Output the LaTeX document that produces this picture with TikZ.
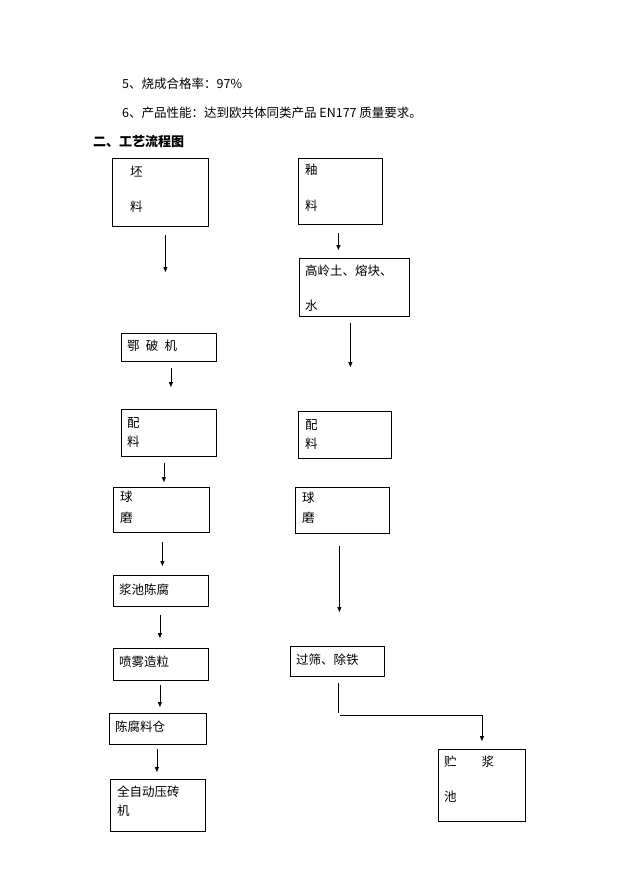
\documentclass[tikz,border=0pt]{standalone}
\usepackage{fontspec}
\setmainfont{Noto Sans CJK SC}
\usetikzlibrary{arrows.meta}
\tikzset{
  box/.style={draw, thick, inner sep=0pt, anchor=north west},
  lbl/.style={anchor=west, inner sep=0pt, font=\fontsize{12.5pt}{14pt}\selectfont},
  arr/.style={-{Triangle[length=5pt,width=4pt]}, thin}
}
\begin{document}
\begin{tikzpicture}[x=1pt,y=-1pt]
\useasboundingbox[fill=white] (0,0) rectangle (621,877);

\node[lbl] (t5) at (122,84) {5、烧成合格率：97\%};
\node[lbl] (t6) at (122,113) {6、产品性能：达到欧共体同类产品 EN177 质量要求。};
\node[lbl,font=\fontsize{13pt}{14pt}\selectfont\bfseries] (t2) at (93,142) {二、工艺流程图};

% left column
\node[box,minimum width=96,minimum height=68] (pl) at (112,158) {};
\node[lbl] at (130,172) {坯};
\node[lbl] at (130,207) {料};
\node[box,minimum width=95,minimum height=28] (ep) at (121,333) {};
\node[lbl] at (127,346) {鄂\enspace 破\enspace 机};
\node[box,minimum width=95,minimum height=47] (pa) at (121,409) {};
\node[lbl] at (127,423) {配};
\node[lbl] at (127,442) {料};
\node[box,minimum width=96,minimum height=45] (qa) at (113,487) {};
\node[lbl] at (120,497) {球};
\node[lbl] at (120,518) {磨};
\node[box,minimum width=95,minimum height=31] (jc) at (113,575) {};
\node[lbl] at (119,590) {浆池陈腐};
\node[box,minimum width=95,minimum height=32] (pw) at (113,648) {};
\node[lbl] at (119,662) {喷雾造粒};
\node[box,minimum width=97,minimum height=31] (cf) at (109,713) {};
\node[lbl] at (115,727) {陈腐料仓};
\node[box,minimum width=95,minimum height=52] (yz) at (110,779) {};
\node[lbl] at (117,792) {全自动压砖};
\node[lbl] at (117,811) {机};

% right column
\node[box,minimum width=84,minimum height=66] (yl) at (298,158) {};
\node[lbl] at (305,170) {釉};
\node[lbl] at (305,206) {料};
\node[box,minimum width=110,minimum height=58] (gl) at (299,258) {};
\node[lbl] at (305,271) {高岭土、熔块、};
\node[lbl] at (305,306) {水};
\node[box,minimum width=93,minimum height=47] (pb) at (298,411) {};
\node[lbl] at (305,425) {配};
\node[lbl] at (305,444) {料};
\node[box,minimum width=94,minimum height=46] (qb) at (295,487) {};
\node[lbl] at (302,498) {球};
\node[lbl] at (302,518) {磨};
\node[box,minimum width=94,minimum height=30] (gs) at (290,646) {};
\node[lbl] at (296,660) {过筛、除铁};
\node[box,minimum width=87,minimum height=72] (zc) at (438,749) {};
\node[lbl] at (444,762) {贮\qquad 浆};
\node[lbl] at (444,797) {池};

% connectors
\draw[arr] ([xshift=5,yshift=-8]pl.south) -- ([xshift=5,yshift=61]pl.south |- ep.north);
\draw[arr] ([xshift=-2,yshift=-8]yl.south) -- ([xshift=-2,yshift=8]yl.south |- gl.north);
\draw[arr] ([xshift=-4,yshift=-6]gl.south) -- ([xshift=-4,yshift=44]gl.south |- pb.north);
\draw[arr] ([xshift=2,yshift=-6]ep.south) -- ([xshift=2,yshift=22]ep.south |- pa.north);
\draw[arr] ([xshift=-5,yshift=-6]pa.south) -- ([xshift=-5,yshift=5]pa.south |- qa.north);
\draw[arr] ([xshift=1,yshift=-9]qa.south) -- ([xshift=1,yshift=9]qa.south |- jc.north);
\draw[arr] ([xshift=-3,yshift=-12]qb.south) -- ([xshift=-3,yshift=34]qb.south |- gs.north);
\draw[arr] ([xshift=-1,yshift=-8]jc.south) -- ([xshift=-1,yshift=10]jc.south |- pw.north);
\draw[arr] ([xshift=-1,yshift=-4]pw.south) -- ([xshift=-1,yshift=6]pw.south |- cf.north);
\draw[arr] ([xshift=-1,yshift=-4]cf.south) -- ([xshift=-1,yshift=7]cf.south |- yz.north);
\draw ([xshift=1,yshift=-6]gs.south) -- ++(0,30);
\draw[arr] ([xshift=3,yshift=-38]gs.south) -| ([xshift=0,yshift=8]zc.north);
\end{tikzpicture}
\end{document}
